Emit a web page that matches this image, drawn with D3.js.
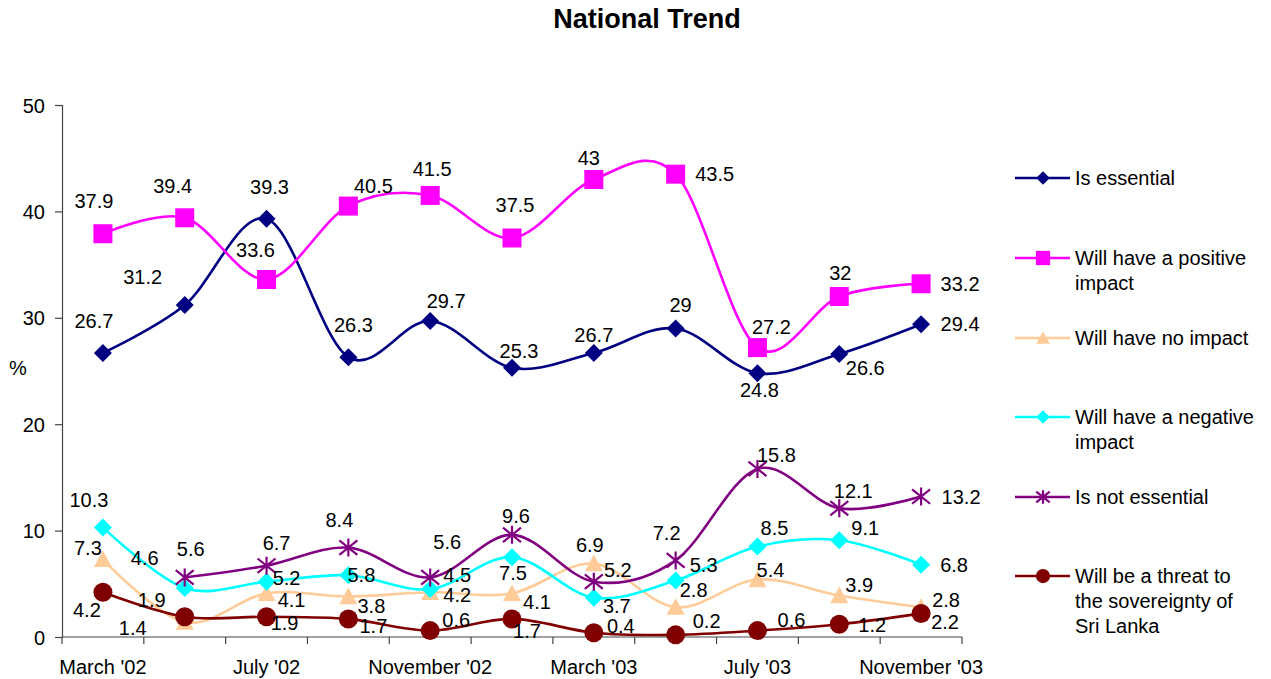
<!DOCTYPE html>
<html>
<head>
<meta charset="utf-8">
<script src="https://cdn.jsdelivr.net/npm/d3@7/dist/d3.min.js"></script>
<style>
  html, body { margin: 0; padding: 0; background: #fff; }
  svg { display: block; font-family: "Liberation Sans", Arial, sans-serif; }
</style>
</head>
<body>
<svg id="chart" width="1271" height="679"></svg>
<script>
// ---------- DATA ----------
const categories = ["March '02", "May '02", "July '02", "September '02", "November '02", "January '03",
                    "March '03", "May '03", "July '03", "September '03", "November '03"];
const shownTickLabels = ["March '02", "July '02", "November '02", "March '03", "July '03", "November '03"];
const yTicks = [0, 10, 20, 30, 40, 50];

const isEssential      = [26.7, 31.2, 39.3, 26.3, 29.7, 25.3, 26.7, 29, 24.8, 26.6, 29.4];
const positiveImpact   = [37.9, 39.4, 33.6, 40.5, 41.5, 37.5, 43, 43.5, 27.2, 32, 33.2];
const noImpact         = [7.3, 1.4, 4.1, 3.8, 4.2, 4.1, 6.9, 2.8, 5.4, 3.9, 2.8];
const negativeImpact   = [10.3, 4.6, 5.2, 5.8, 4.5, 7.5, 3.7, 5.3, 8.5, 9.1, 6.8];
const notEssential     = [null, 5.6, 6.7, 8.4, 5.6, 9.6, 5.2, 7.2, 15.8, 12.1, 13.2];
const threat           = [4.2, 1.9, 1.9, 1.7, 0.6, 1.7, 0.4, 0.2, 0.6, 1.2, 2.2];

const seriesNames = ["Is essential", "Will have a positive impact", "Will have no impact",
                     "Will have a negative impact", "Is not essential",
                     "Will be a threat to the sovereignty of Sri Lanka"];

// ---------- LAYOUT (label offsets, styles) ----------
const offEssential = [[-9,-32],[-42,-28],[3,-32],[5,-32],[16,-20],[7,-17],[0,-18],[5,-23],[2,17],[26,14],[39,0]];
const offPositive  = [[-9,-33],[-12,-32],[-11,-29],[25,-20],[2,-26],[3,-33],[-5,-21],[39,0],[14,-21],[1,-24],[39,0]];
const offNoImpact  = [[-15,-11],[-52,6],[25,7],[23,9],[27,3],[25,9],[-4,-19],[18,-17],[13,-10],[20,-11],[25,-7]];
const offNegative  = [[-14,-27],[-40,-30],[20,-4],[13,0],[27,-14],[1,16],[23,8],[28,-16],[17,-19],[26,-12],[33,0]];
const offNotEss    = [null,[6,-28],[10,-23],[-9,-28],[17,-35],[4,-19],[24,-12],[-9,-27],[19,-14],[14,-17],[40,0]];
const offThreat    = [[-16,18],[-33,-17],[18,6],[25,7],[26,-11],[15,12],[27,-7],[31,-14],[34,-11],[33,1],[24,8]];

const series = [
  { name: seriesNames[0], values: isEssential,    color: "#000080", marker: "diamond",  off: offEssential, legend: ["Is essential"] },
  { name: seriesNames[1], values: positiveImpact, color: "#FF00FF", marker: "square",   off: offPositive,  legend: ["Will have a positive", "impact"] },
  { name: seriesNames[2], values: noImpact,       color: "#FFCC99", marker: "triangle", off: offNoImpact,  legend: ["Will have no impact"] },
  { name: seriesNames[3], values: negativeImpact, color: "#00FFFF", marker: "diamond",  off: offNegative,  legend: ["Will have a negative", "impact"] },
  { name: seriesNames[4], values: notEssential,   color: "#800080", marker: "star",     off: offNotEss,    legend: ["Is not essential"] },
  { name: seriesNames[5], values: threat,         color: "#800000", marker: "circle",   off: offThreat,    legend: ["Will be a threat to", "the sovereignty of", "Sri Lanka"] }
];

// ---------- DRAW ----------
const svg = d3.select("#chart");
const plot = { left: 62, right: 962, top: 105, bottom: 637 };

const x = d3.scaleBand().domain(categories).range([plot.left, plot.right]);
const y = d3.scaleLinear().domain([0, 50]).range([plot.bottom, plot.top]);
const cx = c => x(c) + x.bandwidth() / 2;

// Title
svg.append("text").attr("x", 647).attr("y", 28).attr("text-anchor", "middle")
  .attr("font-size", 27).attr("font-weight", "bold").attr("fill", "#000").text("National Trend");

// Y axis
const yAxis = d3.axisLeft(y).tickValues(yTicks).tickSize(7).tickPadding(10);
const gy = svg.append("g").attr("transform", `translate(${plot.left},0)`).call(yAxis);
gy.select(".domain").attr("stroke", "#444").attr("stroke-width", 1.2);
gy.selectAll(".tick line").attr("stroke", "#444").attr("stroke-width", 1.2);
gy.selectAll(".tick text").attr("font-size", 20).attr("fill", "#000")
  .attr("font-family", "Liberation Sans, Arial, sans-serif").attr("dy", "0.35em");

// X axis (tick marks at category boundaries)
const gx = svg.append("g").attr("transform", `translate(0,${plot.bottom})`);
gx.append("line").attr("x1", plot.left).attr("x2", plot.right).attr("stroke", "#444").attr("stroke-width", 1.2);
const boundaries = categories.map(c => x(c)).concat([plot.right]);
gx.selectAll("line.tk").data(boundaries).join("line").attr("class", "tk")
  .attr("x1", d => d).attr("x2", d => d).attr("y1", 0).attr("y2", 7)
  .attr("stroke", "#444").attr("stroke-width", 1.2);
gx.selectAll("text").data(shownTickLabels).join("text")
  .attr("x", d => cx(d)).attr("y", 37).attr("text-anchor", "middle")
  .attr("font-size", 20).attr("fill", "#000").text(d => d);

// Y label
svg.append("text").attr("x", 18).attr("y", 375).attr("text-anchor", "middle")
  .attr("font-size", 20).attr("fill", "#000").text("%");

// Marker drawing
function drawMarker(g, type, color, s) {
  if (type === "diamond") {
    const h = 9 * s;
    g.append("path").attr("d", `M0,${-h}L${h},0L0,${h}L${-h},0Z`).attr("fill", color);
  } else if (type === "square") {
    const h = 9.5 * s;
    g.append("rect").attr("x", -h).attr("y", -h).attr("width", 2*h).attr("height", 2*h).attr("fill", color);
  } else if (type === "triangle") {
    const h = 9 * s;
    g.append("path").attr("d", `M0,${-h}L${h},${h*0.85}L${-h},${h*0.85}Z`).attr("fill", color);
  } else if (type === "circle") {
    g.append("circle").attr("r", 9.5 * s).attr("fill", color);
  } else if (type === "star") {
    const h = 9 * s;
    const d = `M0,${-h}L0,${h}M${-h},${-h*0.8}L${h},${h*0.8}M${-h},${h*0.8}L${h},${-h*0.8}`;
    g.append("path").attr("d", d).attr("stroke", color).attr("stroke-width", 2.2).attr("fill", "none");
  }
}

const line = d3.line()
  .defined(d => d.v !== null)
  .x(d => cx(d.c)).y(d => y(d.v))
  .curve(d3.curveCardinal.tension(0));

series.forEach(s => {
  const pts = categories.map((c, i) => ({ c, v: s.values[i], off: s.off[i] }));
  const valid = pts.filter(p => p.v !== null);
  svg.append("path").datum(valid).attr("d", line)
    .attr("fill", "none").attr("stroke", s.color).attr("stroke-width", 2.6);
  valid.forEach(p => {
    const g = svg.append("g").attr("transform", `translate(${cx(p.c)},${y(p.v)})`);
    drawMarker(g, s.marker, s.color, 1);
  });
});

// Data labels on top
series.forEach(s => {
  categories.forEach((c, i) => {
    const v = s.values[i];
    if (v === null) return;
    const o = s.off[i];
    svg.append("text").attr("x", cx(c) + o[0]).attr("y", y(v) + o[1])
      .attr("text-anchor", "middle").attr("dominant-baseline", "central")
      .attr("font-size", 20).attr("fill", "#000").text(String(v));
  });
});

// Legend
const legendY = [178, 258, 338, 417, 497, 576];
series.forEach((s, i) => {
  const g = svg.append("g").attr("transform", `translate(0,${legendY[i]})`);
  g.append("line").attr("x1", 1015).attr("x2", 1070).attr("stroke", s.color).attr("stroke-width", 2.6);
  const mg = g.append("g").attr("transform", "translate(1043,0)");
  drawMarker(mg, s.marker, s.color, 0.75);
  s.legend.forEach((t, k) => {
    g.append("text").attr("x", 1075).attr("y", k * 25).attr("dominant-baseline", "central")
      .attr("font-size", 20).attr("fill", "#000").text(t);
  });
});
</script>
</body>
</html>
